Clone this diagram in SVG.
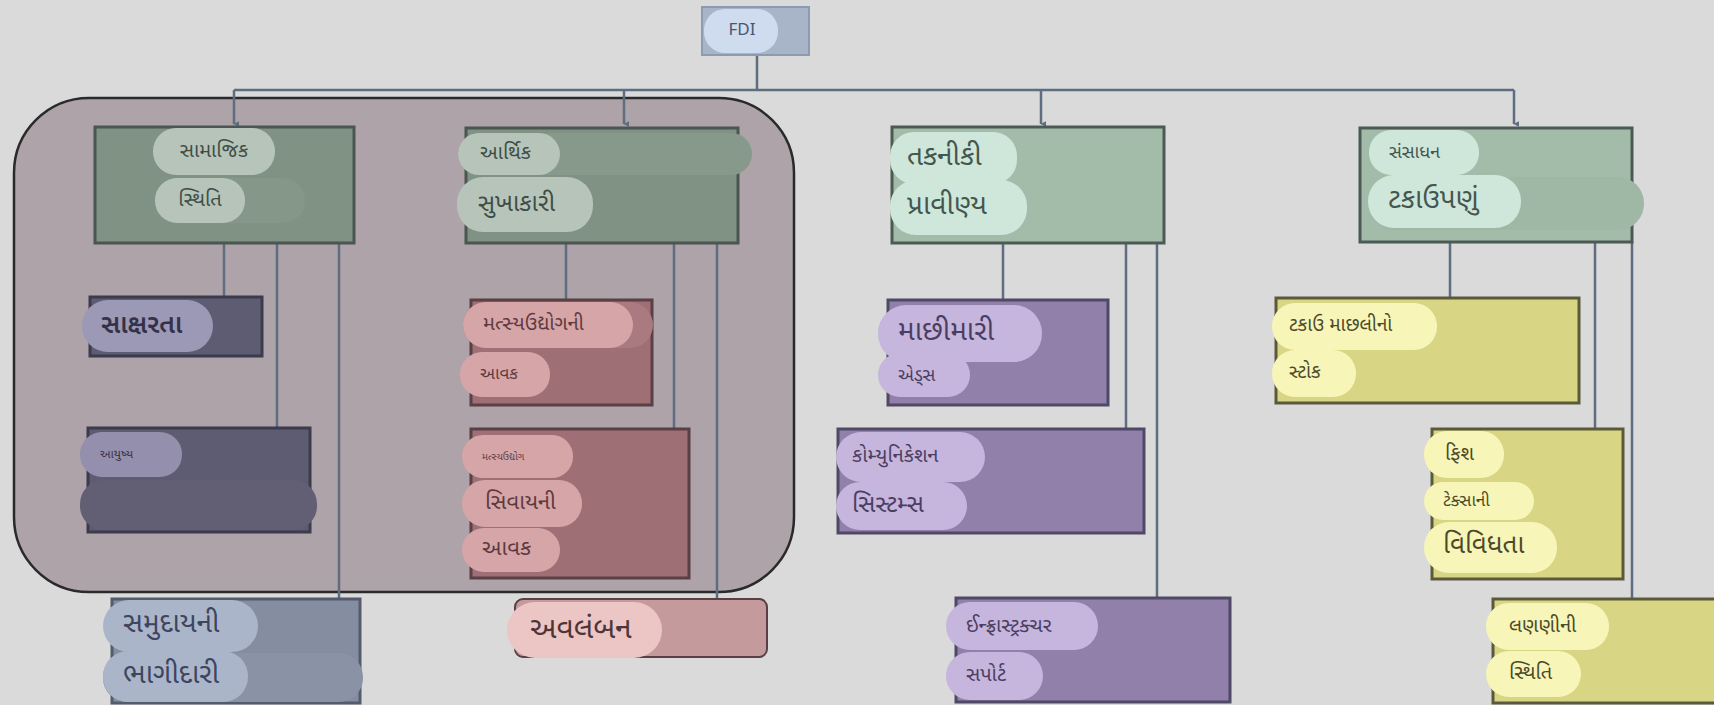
<svg xmlns="http://www.w3.org/2000/svg" width="1714" height="705" viewBox="0 0 1714 705">
<defs>
<style>
text{font-family:"Noto Sans Gujarati","Noto Sans","Liberation Sans",sans-serif;dominant-baseline:central}
.con{fill:none;stroke:#5e6d80;stroke-width:2.5}
.gbox{fill:#7f9283;stroke:#4b5552;stroke-width:3}
.lgbox{fill:#a3bba9;stroke:#4b5a55;stroke-width:3}
.gpill{fill:#b6c4b9}
.lgpill{fill:#cfe6db}
.gt{fill:#3e4d47}
.dbox{fill:#5e5c73;stroke:#3c3b4c;stroke-width:3}
.dpill{fill:#948fad}
.dt{fill:#343248}
.rbox{fill:#9e7076;stroke:#5a3f45;stroke-width:3}
.rpill{fill:#d5a5a8}
.rt{fill:#5e3a40}
.pbox{fill:#9080aa;stroke:#4f4866;stroke-width:3}
.ppill{fill:#c6b5dc}
.pt{fill:#4a3e62}
.ybox{fill:#d8d585;stroke:#5a5a3a;stroke-width:3}
.ypill{fill:#f8f5b8}
.yt{fill:#4b4a2a}
</style>
<marker id="arr" viewBox="0 0 10 10" refX="5" refY="9" markerWidth="6" markerHeight="6" orient="auto-start-reverse" markerUnits="userSpaceOnUse">
<path d="M0,0 L10,0 L5,10 Z" fill="#5e6d80"/>
</marker>
</defs>
<rect x="0" y="0" width="1714" height="705" fill="#dadada"/>
<g id="group-social-economic">
<rect x="14" y="98" width="780" height="494" rx="75" fill="#ada3a8" stroke="#2a2a2a" stroke-width="2.5"/>
</g>
<g id="connectors">
<path class="con" d="M757 55 V90 M234 90 H1514"/>
<path class="con" d="M234 90 V124" marker-end="url(#arr)"/>
<path class="con" d="M624 90 V124" marker-end="url(#arr)"/>
<path class="con" d="M1041 90 V124" marker-end="url(#arr)"/>
<path class="con" d="M1514 90 V124" marker-end="url(#arr)"/>
<path class="con" d="M224 243 V297 M277 243 V428 M339 243 V599"/>
<path class="con" d="M566 243 V300 M674 243 V429 M717 243 V599"/>
<path class="con" d="M1003 243 V300 M1126 243 V429 M1157 243 V598"/>
<path class="con" d="M1450 242 V298 M1595 242 V429 M1632 242 V599"/>
</g>
<g id="fdi">
<rect x="702" y="7" width="107" height="48" fill="#a8b5c8" stroke="#8c9bb0" stroke-width="2"/>
<rect x="704" y="9" width="74" height="44" rx="21" fill="#cfdbee"/>
<text x="742" y="31" font-size="17" text-anchor="middle" fill="#4a5670" font-family="Liberation Sans, sans-serif">FDI</text>
</g>
<g id="samajik">
<rect class="gbox" x="95" y="127" width="259" height="116"/>
<rect x="155" y="178" width="150" height="45" rx="22" fill="#849788"/>
<rect class="gpill" x="153" y="128" width="122" height="47" rx="23"/>
<rect class="gpill" x="155" y="178" width="90" height="45" rx="22"/>
<text class="gt" x="214" y="152" font-size="20" text-anchor="middle">સામાજિક</text>
<text class="gt" x="200" y="201" font-size="20" text-anchor="middle">સ્થિતિ</text>
</g>
<g id="arthik">
<rect class="gbox" x="466" y="128" width="272" height="115"/>
<rect x="458" y="133" width="294" height="42" rx="21" fill="#87998b"/>
<rect class="gpill" x="458" y="133" width="102" height="42" rx="21"/>
<rect class="gpill" x="457" y="177" width="136" height="55" rx="26"/>
<text class="gt" x="480" y="154" font-size="20">આર્થિક</text>
<text class="gt" x="478" y="205" font-size="24">સુખાકારી</text>
</g>
<g id="taknik">
<rect class="lgbox" x="892" y="127" width="272" height="116"/>
<rect class="lgpill" x="890" y="132" width="127" height="52" rx="24"/>
<rect class="lgpill" x="890" y="180" width="137" height="55" rx="26"/>
<text x="907" y="158" font-size="28" fill="#44574f">તકનીકી</text>
<text x="907" y="207" font-size="28" fill="#44574f">પ્રાવીણ્ય</text>
</g>
<g id="sansadhan">
<rect class="lgbox" x="1360" y="128" width="272" height="114"/>
<rect x="1368" y="177" width="276" height="53" rx="26" fill="#9fb8a6"/>
<rect class="lgpill" x="1369" y="130" width="110" height="45" rx="22"/>
<rect class="lgpill" x="1368" y="175" width="153" height="53" rx="26"/>
<text x="1389" y="153" font-size="18" fill="#44574f">સંસાધન</text>
<text x="1388" y="201" font-size="28" fill="#44574f">ટકાઉપણું</text>
</g>
<g id="saksharta">
<rect class="dbox" x="90" y="297" width="172" height="59"/>
<rect x="82" y="300" width="131" height="52" rx="26" fill="#9c99b6"/>
<text class="dt" x="101" y="327" font-size="26" font-weight="600">સાક્ષરતા</text>
</g>
<g id="ayushya">
<rect class="dbox" x="88" y="428" width="222" height="104" fill="#5c5a6e"/>
<rect x="80" y="480" width="237" height="50" rx="24" fill="#625f74"/>
<rect class="dpill" x="80" y="432" width="102" height="45" rx="22"/>
<text class="dt" x="100" y="455" font-size="12">આયુષ્ય</text>
</g>
<g id="matsya-aavak">
<rect class="rbox" x="471" y="300" width="181" height="105"/>
<rect x="463" y="302" width="190" height="46" rx="23" fill="#a97a80"/>
<rect class="rpill" x="463" y="302" width="170" height="46" rx="23"/>
<rect class="rpill" x="460" y="352" width="90" height="45" rx="22"/>
<text class="rt" x="483" y="325" font-size="20">મત્સ્યઉદ્યોગની</text>
<text class="rt" x="480" y="375" font-size="17">આવક</text>
</g>
<g id="bin-matsya-aavak">
<rect class="rbox" x="471" y="429" width="218" height="149"/>
<rect class="rpill" x="462" y="435" width="111" height="43" rx="21"/>
<rect class="rpill" x="462" y="480" width="120" height="47" rx="23"/>
<rect class="rpill" x="462" y="528" width="98" height="44" rx="22"/>
<text class="rt" x="482" y="457" font-size="10">મત્સ્યઉદ્યોગ</text>
<text class="rt" x="485" y="503" font-size="22">સિવાયની</text>
<text class="rt" x="482" y="549" font-size="22">આવક</text>
</g>
<g id="samuday">
<rect x="112" y="599" width="248" height="104" fill="#858ea0" stroke="#535b6d" stroke-width="3"/>
<rect x="103" y="653" width="260" height="49" rx="24" fill="#8a93a5"/>
<rect x="103" y="600" width="155" height="52" rx="26" fill="#aab5c9"/>
<rect x="103" y="651" width="145" height="51" rx="25" fill="#aab5c9"/>
<text x="123" y="625" font-size="28" fill="#3d4560">સમુદાયની</text>
<text x="123" y="676" font-size="28" fill="#3d4560">ભાગીદારી</text>
</g>
<g id="avalamban">
<rect x="515" y="599" width="252" height="58" rx="8" fill="#c49a9c" stroke="#5a4045" stroke-width="2"/>
<rect x="507" y="602" width="155" height="56" rx="28" fill="#ecc5c5"/>
<text x="530" y="630" font-size="30" fill="#4d3538">અવલંબન</text>
</g>
<g id="machhimari">
<rect class="pbox" x="888" y="300" width="220" height="105"/>
<rect class="ppill" x="878" y="305" width="164" height="57" rx="28"/>
<rect class="ppill" x="878" y="353" width="92" height="44" rx="22"/>
<text class="pt" x="898" y="333" font-size="28">માછીમારી</text>
<text class="pt" x="898" y="376" font-size="18">એડ્સ</text>
</g>
<g id="communication">
<rect class="pbox" x="838" y="429" width="306" height="104"/>
<rect class="ppill" x="836" y="432" width="149" height="50" rx="25"/>
<rect class="ppill" x="836" y="482" width="131" height="48" rx="24"/>
<text class="pt" x="852" y="457" font-size="20">કોમ્યુનિકેશન</text>
<text class="pt" x="852" y="506" font-size="24">સિસ્ટમ્સ</text>
</g>
<g id="infrastructure">
<rect class="pbox" x="956" y="598" width="274" height="104"/>
<rect class="ppill" x="946" y="602" width="152" height="48" rx="24"/>
<rect class="ppill" x="946" y="652" width="97" height="48" rx="24"/>
<text class="pt" x="966" y="627" font-size="20">ઈન્ફ્રાસ્ટ્રક્ચર</text>
<text class="pt" x="966" y="676" font-size="20">સપોર્ટ</text>
</g>
<g id="takau-stock">
<rect class="ybox" x="1276" y="298" width="303" height="105"/>
<rect class="ypill" x="1272" y="303" width="165" height="47" rx="23"/>
<rect class="ypill" x="1272" y="350" width="84" height="47" rx="23"/>
<text class="yt" x="1289" y="326" font-size="19">ટકાઉ માછલીનો</text>
<text class="yt" x="1289" y="373" font-size="19">સ્ટોક</text>
</g>
<g id="fish-taxa">
<rect class="ybox" x="1432" y="429" width="191" height="150"/>
<rect class="ypill" x="1424" y="431" width="80" height="47" rx="23"/>
<rect class="ypill" x="1424" y="482" width="110" height="38" rx="19"/>
<rect class="ypill" x="1424" y="522" width="133" height="51" rx="25"/>
<text class="yt" x="1445" y="455" font-size="20">ફિશ</text>
<text class="yt" x="1443" y="502" font-size="17">ટેક્સાની</text>
<text class="yt" x="1443" y="547" font-size="26">વિવિધતા</text>
</g>
<g id="lanani">
<rect class="ybox" x="1493" y="599" width="230" height="104" fill="#dcd98a"/>
<rect class="ypill" x="1486" y="603" width="123" height="47" rx="23"/>
<rect class="ypill" x="1486" y="651" width="95" height="46" rx="23"/>
<text class="yt" x="1509" y="627" font-size="20">લણણીની</text>
<text class="yt" x="1509" y="674" font-size="20">સ્થિતિ</text>
</g>
</svg>
